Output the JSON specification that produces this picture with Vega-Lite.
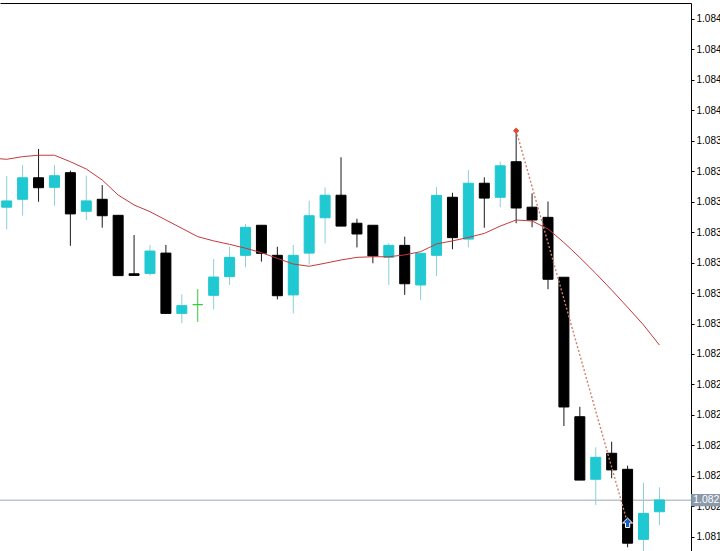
{
  "$schema": "https://vega.github.io/schema/vega-lite/v6.json",
  "autosize": {"type": "none"},
  "padding": {"left": 0, "top": 3, "right": 29, "bottom": 0},
  "width": 691,
  "height": 548,
  "background": "white",
  "config": {"view": {"stroke": null}},
  "datasets": {
    "candles": [
      {"i": 0, "o": 1.083573, "h": 1.083727, "l": 1.083464, "c": 1.083604, "dir": "up"},
      {"i": 1, "o": 1.083612, "h": 1.083781, "l": 1.083531, "c": 1.083718, "dir": "up"},
      {"i": 2, "o": 1.083718, "h": 1.08386, "l": 1.0836, "c": 1.083669, "dir": "down"},
      {"i": 3, "o": 1.083671, "h": 1.083781, "l": 1.08358, "c": 1.083728, "dir": "up"},
      {"i": 4, "o": 1.083743, "h": 1.083753, "l": 1.083383, "c": 1.08354, "dir": "down"},
      {"i": 5, "o": 1.083553, "h": 1.083728, "l": 1.08351, "c": 1.083604, "dir": "up"},
      {"i": 6, "o": 1.083612, "h": 1.083682, "l": 1.083472, "c": 1.083531, "dir": "down"},
      {"i": 7, "o": 1.083533, "h": 1.083533, "l": 1.083236, "c": 1.083236, "dir": "down"},
      {"i": 8, "o": 1.083245, "h": 1.083436, "l": 1.083236, "c": 1.083237, "dir": "down"},
      {"i": 9, "o": 1.083247, "h": 1.083387, "l": 1.083236, "c": 1.083357, "dir": "up"},
      {"i": 10, "o": 1.083347, "h": 1.083387, "l": 1.08305, "c": 1.08305, "dir": "down"},
      {"i": 11, "o": 1.08305, "h": 1.083144, "l": 1.083001, "c": 1.083088, "dir": "up"},
      {"i": 12, "o": 1.083093, "h": 1.083169, "l": 1.083008, "c": 1.083093, "dir": "doji"},
      {"i": 13, "o": 1.083139, "h": 1.083318, "l": 1.08307, "c": 1.083229, "dir": "up"},
      {"i": 14, "o": 1.083231, "h": 1.083378, "l": 1.08319, "c": 1.083326, "dir": "up"},
      {"i": 15, "o": 1.083336, "h": 1.08349, "l": 1.083277, "c": 1.083474, "dir": "up"},
      {"i": 16, "o": 1.083484, "h": 1.083484, "l": 1.083305, "c": 1.083346, "dir": "down"},
      {"i": 17, "o": 1.083336, "h": 1.083378, "l": 1.083119, "c": 1.083137, "dir": "down"},
      {"i": 18, "o": 1.083141, "h": 1.083387, "l": 1.08305, "c": 1.083336, "dir": "up"},
      {"i": 19, "o": 1.083347, "h": 1.083605, "l": 1.08329, "c": 1.083531, "dir": "up"},
      {"i": 20, "o": 1.083521, "h": 1.083671, "l": 1.083395, "c": 1.083632, "dir": "up"},
      {"i": 21, "o": 1.083632, "h": 1.083819, "l": 1.08348, "c": 1.08348, "dir": "down"},
      {"i": 22, "o": 1.083494, "h": 1.083516, "l": 1.083375, "c": 1.083441, "dir": "down"},
      {"i": 23, "o": 1.083484, "h": 1.083484, "l": 1.083297, "c": 1.083333, "dir": "down"},
      {"i": 24, "o": 1.083326, "h": 1.083395, "l": 1.08319, "c": 1.083385, "dir": "up"},
      {"i": 25, "o": 1.083385, "h": 1.083428, "l": 1.083141, "c": 1.083196, "dir": "down"},
      {"i": 26, "o": 1.08319, "h": 1.083346, "l": 1.083116, "c": 1.083346, "dir": "up"},
      {"i": 27, "o": 1.083336, "h": 1.083672, "l": 1.083234, "c": 1.083631, "dir": "up"},
      {"i": 28, "o": 1.083622, "h": 1.083644, "l": 1.083366, "c": 1.083423, "dir": "down"},
      {"i": 29, "o": 1.083416, "h": 1.083756, "l": 1.083375, "c": 1.083691, "dir": "up"},
      {"i": 30, "o": 1.083691, "h": 1.08372, "l": 1.083472, "c": 1.083618, "dir": "down"},
      {"i": 31, "o": 1.083622, "h": 1.083797, "l": 1.083573, "c": 1.083777, "dir": "up"},
      {"i": 32, "o": 1.083797, "h": 1.08395, "l": 1.083494, "c": 1.083569, "dir": "down"},
      {"i": 33, "o": 1.083573, "h": 1.083641, "l": 1.083474, "c": 1.08351, "dir": "down"},
      {"i": 34, "o": 1.083523, "h": 1.083601, "l": 1.083169, "c": 1.083218, "dir": "down"},
      {"i": 35, "o": 1.083228, "h": 1.083228, "l": 1.082495, "c": 1.082589, "dir": "down"},
      {"i": 36, "o": 1.082541, "h": 1.08259, "l": 1.082229, "c": 1.082229, "dir": "down"},
      {"i": 37, "o": 1.082233, "h": 1.08239, "l": 1.082106, "c": 1.082341, "dir": "up"},
      {"i": 38, "o": 1.082361, "h": 1.082418, "l": 1.082238, "c": 1.082279, "dir": "down"},
      {"i": 39, "o": 1.082282, "h": 1.0823, "l": 1.081898, "c": 1.081918, "dir": "down"},
      {"i": 40, "o": 1.081937, "h": 1.082216, "l": 1.08188, "c": 1.082065, "dir": "up"},
      {"i": 41, "o": 1.082073, "h": 1.082193, "l": 1.082008, "c": 1.082131, "dir": "up"}
    ],
    "ma": [
      {"i": -1, "v": 1.083815}, {"i": 0, "v": 1.083809}, {"i": 1, "v": 1.083822}, {"i": 2, "v": 1.083829},
      {"i": 3, "v": 1.083829}, {"i": 4, "v": 1.083797}, {"i": 5, "v": 1.083761}, {"i": 6, "v": 1.083707},
      {"i": 7, "v": 1.083633}, {"i": 8, "v": 1.083584}, {"i": 9, "v": 1.083551}, {"i": 10, "v": 1.08351},
      {"i": 11, "v": 1.083469}, {"i": 12, "v": 1.083428}, {"i": 13, "v": 1.083407}, {"i": 14, "v": 1.08339},
      {"i": 15, "v": 1.083371}, {"i": 16, "v": 1.083349}, {"i": 17, "v": 1.083321}, {"i": 18, "v": 1.083293},
      {"i": 19, "v": 1.083282}, {"i": 20, "v": 1.083297}, {"i": 21, "v": 1.083313}, {"i": 22, "v": 1.083326},
      {"i": 23, "v": 1.083329}, {"i": 24, "v": 1.083329}, {"i": 25, "v": 1.083338}, {"i": 26, "v": 1.083354},
      {"i": 27, "v": 1.083392}, {"i": 28, "v": 1.083407}, {"i": 29, "v": 1.083424}, {"i": 30, "v": 1.083444},
      {"i": 31, "v": 1.08348}, {"i": 32, "v": 1.08351}, {"i": 33, "v": 1.083505}, {"i": 34, "v": 1.083466},
      {"i": 35, "v": 1.083399}, {"i": 36, "v": 1.083325}, {"i": 37, "v": 1.083247}, {"i": 38, "v": 1.083165},
      {"i": 39, "v": 1.08308}, {"i": 40, "v": 1.082993}, {"i": 41, "v": 1.082894}
    ],
    "trend": [
      {"i": 32, "p": 1.08395, "kind": "high"},
      {"i": 39, "p": 1.082016, "kind": "buy"}
    ]
  },
  "layer": [
    {
      "data": {"values": [{"price": 1.08213, "label": "1.08213"}]},
      "mark": {"type": "rule", "color": "#9aa6b2", "strokeWidth": 1},
      "encoding": {
        "y": {
          "field": "price", "type": "quantitative",
          "scale": {"domain": [1.0818796, 1.0845788], "nice": false, "zero": false, "padding": 0},
          "axis": {
            "orient": "right", "title": null, "grid": false,
            "values": [1.08195, 1.0821, 1.08225, 1.0824, 1.08255, 1.0827, 1.08285, 1.083, 1.08315, 1.0833, 1.08345, 1.0836, 1.08375, 1.0839, 1.08405, 1.0842, 1.08435, 1.0845],
            "tickCount": 30,
            "format": ".5f",
            "labelFont": "Liberation Sans", "labelFontSize": 10, "labelColor": "#000000",
            "labelPadding": 2, "tickSize": 3, "tickColor": "#000000", "domainColor": "#000000",
            "labelOverlap": false, "labelBound": false, "labelFlush": false
          }
        }
      }
    },
    {
      "data": {"name": "candles"},
      "mark": {"type": "rule", "strokeWidth": 1, "clip": true},
      "encoding": {
        "x": {
          "field": "i", "type": "quantitative",
          "scale": {"domain": [-0.421, 42.983], "nice": false, "zero": false, "padding": 0},
          "axis": {"orient": "top", "labels": false, "ticks": false, "grid": false, "title": null, "domain": true, "domainColor": "#000000", "domainWidth": 1}
        },
        "y": {"field": "h", "type": "quantitative"},
        "y2": {"field": "l"},
        "color": {
          "field": "dir", "type": "nominal", "legend": null,
          "scale": {"domain": ["up", "down", "doji"], "range": ["#8ccfd9", "#1a1a1a", "#32cd32"]}
        }
      }
    },
    {
      "data": {"name": "candles"},
      "mark": {"type": "bar", "width": 10, "strokeWidth": 1, "clip": true},
      "encoding": {
        "x": {"field": "i", "type": "quantitative"},
        "y": {"field": "o", "type": "quantitative"},
        "y2": {"field": "c"},
        "fill": {
          "field": "dir", "type": "nominal", "legend": null,
          "scale": {"domain": ["up", "down", "doji"], "range": ["#20c8d2", "#000000", "#32cd32"]}
        },
        "stroke": {
          "field": "dir", "type": "nominal", "legend": null,
          "scale": {"domain": ["up", "down", "doji"], "range": ["#20c8d2", "#000000", "#32cd32"]}
        }
      }
    },
    {
      "data": {"name": "ma"},
      "mark": {"type": "line", "color": "#c43a3a", "strokeWidth": 1, "clip": true},
      "encoding": {
        "x": {"field": "i", "type": "quantitative"},
        "y": {"field": "v", "type": "quantitative"}
      }
    },
    {
      "data": {"name": "trend"},
      "mark": {"type": "line", "color": "#d0806e", "strokeWidth": 1.4, "strokeDash": [2, 2], "clip": true},
      "encoding": {
        "x": {"field": "i", "type": "quantitative"},
        "y": {"field": "p", "type": "quantitative"}
      }
    },
    {
      "data": {"name": "trend"},
      "transform": [{"filter": "datum.kind === 'high'"}],
      "mark": {"type": "point", "shape": "diamond", "size": 40, "filled": true, "color": "#e4472e", "opacity": 1},
      "encoding": {
        "x": {"field": "i", "type": "quantitative"},
        "y": {"field": "p", "type": "quantitative"}
      }
    },
    {
      "data": {"name": "trend"},
      "transform": [{"filter": "datum.kind === 'buy'"}],
      "mark": {"type": "point", "shape": "M0,-1L0.95,-0.05L0.4,-0.05L0.4,0.8L-0.4,0.8L-0.4,-0.05L-0.95,-0.05Z", "size": 110, "filled": true, "fill": "#1c5fc4", "stroke": "#ffffff", "strokeWidth": 1, "opacity": 1},
      "encoding": {
        "x": {"field": "i", "type": "quantitative"},
        "y": {"field": "p", "type": "quantitative"}
      }
    },
    {
      "data": {"values": [{"price": 1.08213, "label": "1.08213"}]},
      "mark": {"type": "rect", "color": "#8b9aaa", "clip": false},
      "encoding": {
        "x": {"datum": 42.99, "type": "quantitative"},
        "x2": {"datum": 46},
        "y": {"datum": 1.08216, "type": "quantitative"},
        "y2": {"datum": 1.0821}
      }
    },
    {
      "data": {"values": [{"price": 1.08213, "label": "1.08213"}]},
      "mark": {"type": "text", "color": "#ffffff", "font": "Liberation Sans", "fontSize": 10.5, "align": "left", "baseline": "middle", "clip": false},
      "encoding": {
        "x": {"datum": 43.12, "type": "quantitative"},
        "y": {"field": "price", "type": "quantitative"},
        "text": {"field": "label"}
      }
    }
  ],
  "resolve": {"scale": {"fill": "independent", "stroke": "independent", "color": "independent"}}
}
